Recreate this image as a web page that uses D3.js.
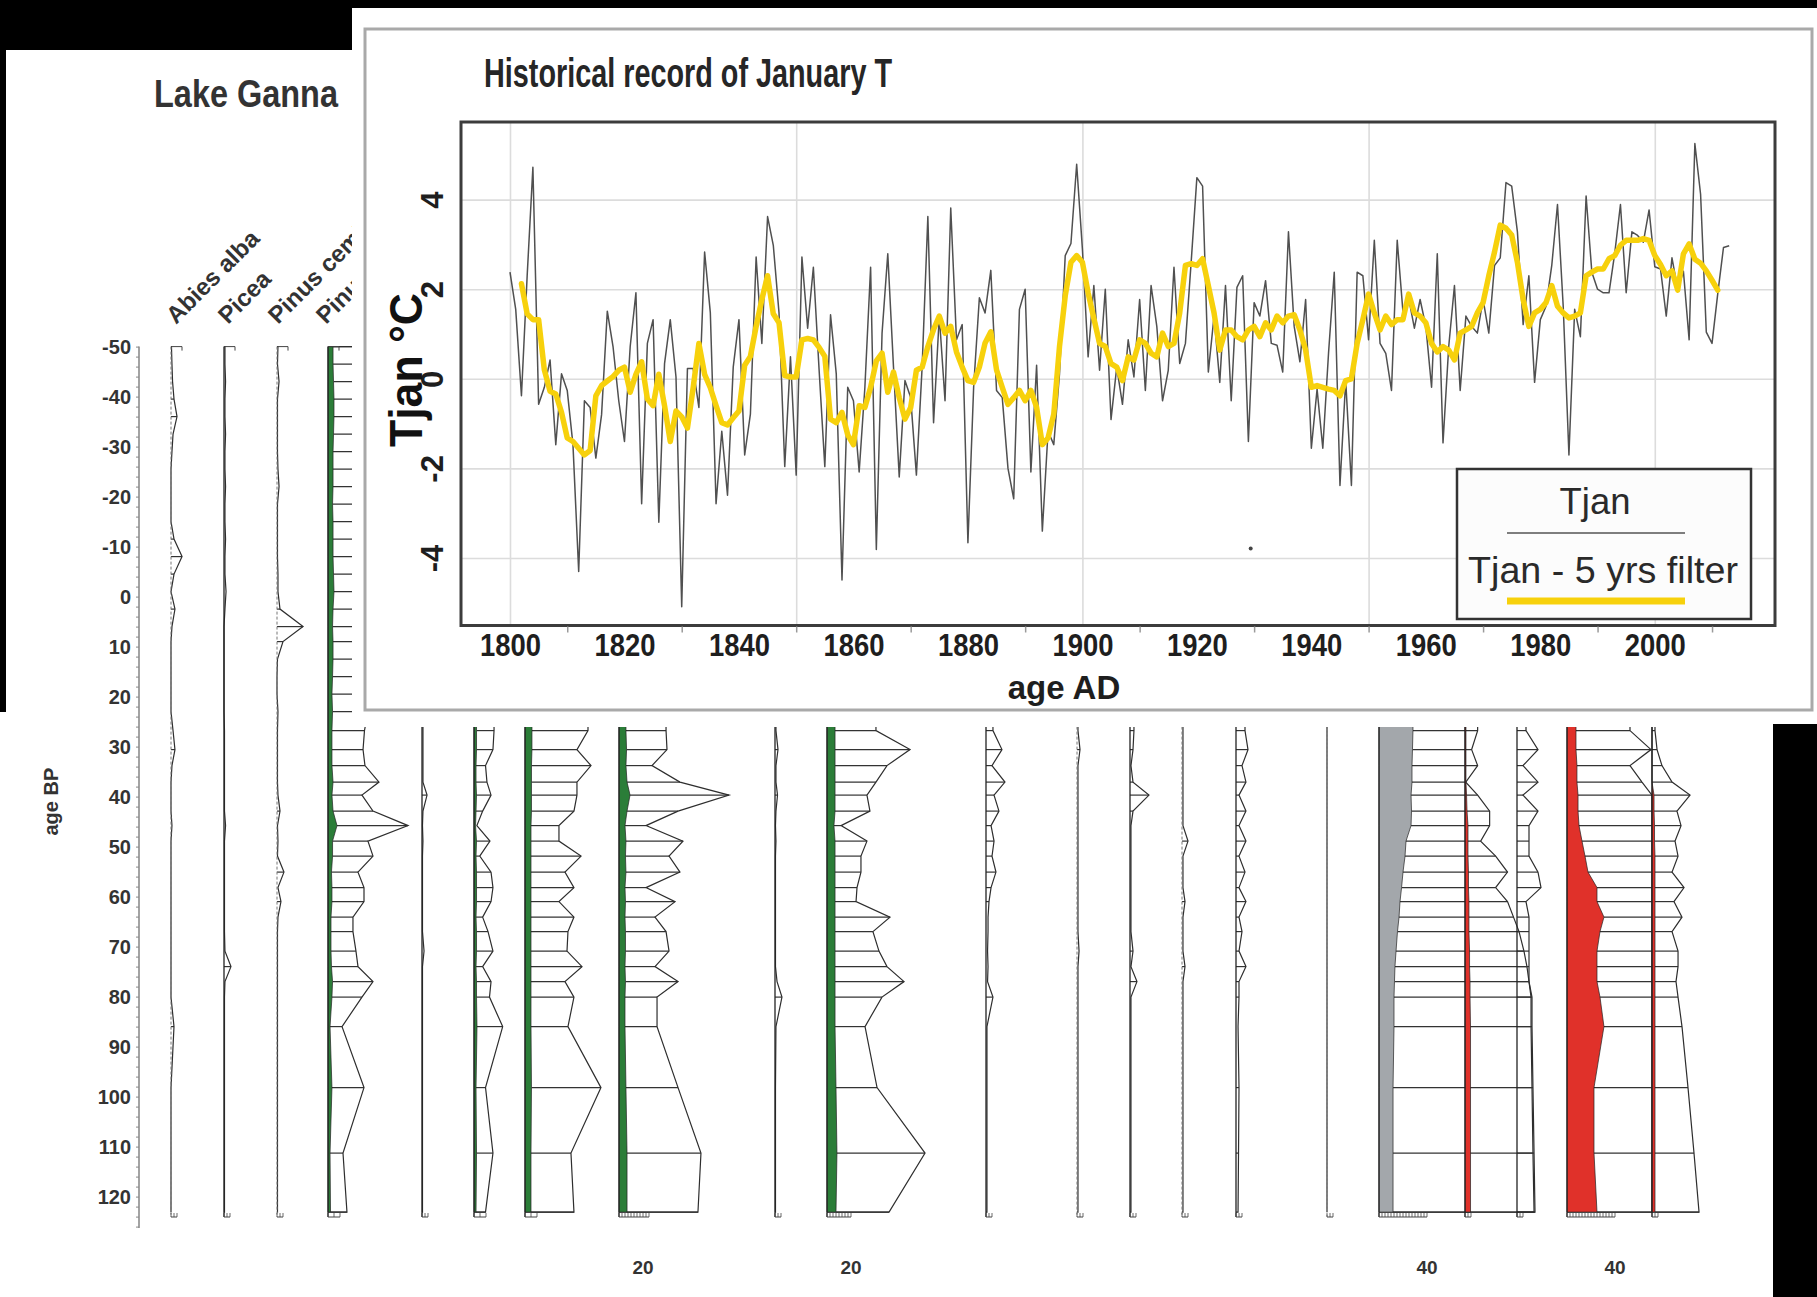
<!DOCTYPE html>
<html>
<head>
<meta charset="utf-8">
<script src="https://cdn.jsdelivr.net/npm/d3@7/dist/d3.min.js"></script>
<style>
 html,body{margin:0;padding:0;background:#fff;}
 svg{display:block;}
</style>
</head>
<body>
<svg id="chart" width="1817" height="1297"></svg>
<script>
// ================= DATA =================
// --- Historical record of January T ---
const tjanStartYear = 1800;
const tjan = [
 2.38, 1.55, -0.38, 2.3, 4.72, -0.57, -0.19, 0.42, -1.47, 0.11,
 -0.26, -1.47, -4.3, -0.49, -0.64, -1.77, -0.8, 1.51, 0.72, -0.49,
 -1.4, 0.72, 1.92, -2.79, 0.79, 1.32, -3.2, 0.34, 1.32, 0.04,
 -5.09, 0.23, 0.23, -0.64, 2.83, 1.47, -2.79, -1.17, -2.6, 0.26,
 1.32, -1.7, -0.79, 2.72, 0.79, 3.62, 2.98, 1.47, -1.96, 0.49,
 -2.15, 2.72, 1.13, 2.49, 0.2, -1.96, 1.43, 0.11, -4.49, -0.19,
 -0.49, -2.08, -0.19, 2.49, -3.81, 1.02, 2.79, 0.26, -2.19, -0.04,
 -0.42, -2.15, 0.26, 3.62, -0.98, 1.4, -0.49, 3.81, 0.87, 1.21,
 -3.66, -0.19, 1.81, 1.47, 2.42, -0.26, -0.42, -2.0, -2.68, 1.55,
 2.0, -2.08, 0.3, -3.4, -1.17, -1.47, 0.11, 2.75, 3.02, 4.79,
 2.9, 0.49, 2.08, 0.19, 2.0, -0.91, 0.26, -0.57, 0.87, 0.04,
 1.77, -0.26, 2.08, 1.17, -0.49, 0.19, 2.49, 0.34, 0.79, 2.6,
 4.49, 4.3, 0.15, 1.4, -0.08, 2.08, -0.49, 2.04, 2.3, -1.4,
 1.7, 1.4, 2.19, 0.79, 0.75, 0.15, 3.28, 1.17, 0.38, 1.77,
 -1.55, -0.23, -1.55, 0.57, 2.38, -2.38, -0.04, -2.38, 2.38, 2.3,
 0.87, 3.09, 0.79, 0.57, -0.26, 3.09, 1.5, 1.8, 1.13, 1.77,
 1.17, -0.19, 2.79, -1.43, 0.72, 2.08, -0.26, 1.4, 1.17, 1.02,
 1.77, 1.02, 2.53, 2.7, 4.38, 4.3, 3.28, 1.21, 2.3, -0.08,
 1.32, 1.62, 2.53, 3.89, 1.62, -1.7, 1.55, 0.94, 4.08, 2.38,
 2.0, 1.92, 1.92, 2.8, 3.89, 1.92, 3.28, 3.2, 3.05, 3.77,
 2.5, 2.45, 1.4, 2.7, 2.0, 2.4, 0.87, 5.25, 4.12, 1.04,
 0.79, 1.9, 2.93, 2.97
];
const filterStartYear = 1802;
const tjanFilter5 = [
 2.12, 1.45, 1.32, 1.32, 0.2, -0.28, -0.34, -0.75,
 -1.32, -1.4, -1.55, -1.7, -1.6, -0.38, -0.15, -0.05, 0.05, 0.19,
 0.26, -0.3, 0.1, 0.38, -0.45, -0.6, 0.1, -0.6, -1.4, -0.72,
 -0.85, -1.1, -0.2, 0.79, 0.1, -0.2, -0.6, -0.98, -1.03, -0.87,
 -0.72, 0.3, 0.5, 1.17, 1.77, 2.3, 1.45, 1.25, 0.07, 0.04,
 0.04, 0.87, 0.9, 0.87, 0.7, 0.5, -0.9, -0.98, -0.75, -1.25,
 -1.47, -0.6, -0.64, -0.19, 0.4, 0.57, -0.3, 0.15, -0.42, -0.9,
 -0.64, 0.19, 0.26, 0.72, 1.1, 1.4, 1.02, 1.17, 0.6, 0.26,
 -0.04, -0.08, 0.26, 0.8, 1.05, 0.2, -0.19, -0.57, -0.42, -0.26,
 -0.49, -0.26, -0.64, -1.47, -1.32, -0.79, 0.72, 1.85, 2.6, 2.75,
 2.6, 1.92, 1.35, 0.79, 0.72, 0.34, 0.26, -0.04, 0.49, 0.42,
 0.87, 0.79, 0.57, 0.49, 1.02, 0.72, 0.79, 1.47, 2.53, 2.57,
 2.53, 2.68, 2.08, 1.47, 0.64, 1.09, 1.09, 0.94, 0.87, 1.09,
 1.17, 0.94, 1.25, 1.09, 1.4, 1.25, 1.4, 1.43, 1.09, 0.64,
 -0.19, -0.15, -0.19, -0.23, -0.26, -0.38, -0.04, 0.0, 0.79, 1.32,
 1.89, 1.47, 1.09, 1.4, 1.21, 1.32, 1.32, 1.89, 1.47, 1.4,
 1.25, 0.79, 0.6, 0.72, 0.64, 0.42, 1.02, 1.09, 1.17, 1.47,
 1.7, 2.3, 2.83, 3.43, 3.36, 3.21, 2.6, 1.77, 1.17, 1.47,
 1.55, 1.7, 2.08, 1.62, 1.47, 1.36, 1.4, 1.47, 2.3, 2.38,
 2.45, 2.45, 2.68, 2.75, 2.98, 3.09, 3.09, 3.09, 3.13, 3.09,
 2.75, 2.55, 2.3, 2.41, 1.98, 2.79, 3.01, 2.67, 2.58, 2.41,
 2.2, 1.98
];
const strayMarks = [{year: 1929.4, value: -3.79}];
const xTickYears = [1800, 1820, 1840, 1860, 1880, 1900, 1920, 1940, 1960, 1980, 2000];
const xMinorTickYears = [1810, 1830, 1850, 1870, 1890, 1910, 1930, 1950, 1970, 1990, 2010];
const xGridYears = [1800, 1850, 1900, 1950, 2000];
const yTickValues = [-4, -2, 0, 2, 4];
const insetTitle = "Historical record of January T";
const xAxisTitle = "age AD";
const yAxisTitle = "Tjan \u00B0C";
const legendLabels = ["Tjan", "Tjan - 5 yrs filter"];

// --- Lake Ganna pollen diagram (background) ---
const diagramTitle = "Lake Ganna";
const ageAxisTitle = "age BP";
const ageTicks = [-50, -40, -30, -20, -10, 0, 10, 20, 30, 40, 50, 60, 70, 80, 90, 100, 110, 120];
const pollenAgesUpper = [-50, -46.5, -43, -39.5, -36, -32.5, -29, -25.5, -22, -18.5, -15, -11.5, -8, -4.5, -1, 2.5, 6, 9, 12.5, 16, 19.5, 23];
const pollenAgesLower = [26.8, 30.6, 33.8, 37.1, 39.7, 42.9, 45.8, 48.9, 51.9, 55.1, 58.2, 61.0, 64.1, 67.0, 70.9, 74.0, 77.0, 80.1, 86.0, 98.2, 111.3, 123.1];
const taxaLabels = ["Abies alba", "Picea", "Pinus cembra", "Pinus sylvestris"];
// values in % (fill) and in exaggerated % (outline curves)
const abiesAlbaExag = [0.4,0.8,1.3,2.5,5,1.7,0.8,0,0,0,0,2.5,9.2,2.5,0,3.3,0.8,0,0,0,0,0, 1.7,3.3,0.8,0,0,0,0.8,0,0,0,0,0,0,0,0,0,0,0,2.5,0,0,0];
const piceaExag = [0.8,0.8,1.3,0.8,0.8,1.3,0.8,0.8,1.3,0.8,0.8,1.3,0.8,0.8,1.7,0.8,0,0,0,0,0,0, 0.4,0.4,0.4,0.4,0.4,0.4,1.3,0.4,0.4,0.4,0.4,0.4,0.4,0.4,0.8,5.8,0.8,0.4,0.4,0.4,0.4,0.4];
const pinusCembraExag = [0.8,0.4,1.7,0.4,0.4,0.4,0.4,0.8,1.7,0.4,0.4,0.4,0.4,0.8,0.8,2.5,21.7,5,0.4,0,0,0.8, 0.4,0.4,0.4,0.4,0.8,2.5,0.4,0.8,0.4,5.8,0.8,3.3,0.8,0.4,0.4,0.4,0.4,0.4,0.4,0.4,0.4,0.4];
const pinusSylvFill = [4.2,4.2,4.6,5,5,4.6,4.2,4.2,4.2,3.8,4.2,4.2,4.2,4.6,5,4.2,3.8,4.2,4.2,3.8,3.3,3.8, 3.3,3.3,3.3,4.2,3.3,4.2,7.5,3.8,3.8,2.9,3.3,3.3,2.5,2.5,2.5,2.9,3.8,3.3,1.7,3.3,1.7,2.1];
const pinusSylvExag = [37.5,36.7,40,41.7,41.7,38.3,36.7,35,36.7,33.3,36.7,36.7,36.7,40,41.7,36.7,33.3,35,38.3,35,33.3,33.3, 30.4,29.2,30.8,42.5,28.3,37.5,66.7,33.3,37.5,25,30,30,20.8,20.8,23.3,25,37.5,28.3,11.7,30,12.5,15.8];
const taxon5Exag = [0.8,0.8,0.8,0.8,4.2,0.8,0.4,0.8,0.4,0.4,0.4,0.4,0.4,0.4,1.7,0.4,0.4,0.4,0.4,0.4,0.4,0.4];
const taxon6Fill = [2.1,2.1,1.7,1.7,2.1,1.7,1.3,2.1,1.7,2.1,2.1,2.1,1.7,2.1,2.1,1.7,2.1,2.1,2.5,1.7,2.1,1.7];
const taxon6Exag = [16.7,15.8,9.6,10.8,14.2,7.2,2.4,13.3,4.8,14.2,15.8,14.2,7.2,11.7,15.8,7.2,14.2,12.9,23.9,9.6,15.8,9.6];
const taxon7Fill = [5.8,5.8,5.4,5.4,5.4,5.4,5,5,5,5,5,5,5,5,5,5,5,5,5,5.4,5,5];
const taxon7Exag = [52.5,43.3,55,43.3,43.3,40.8,28.3,28.3,46.7,33.3,40.8,28.3,40.8,35.8,35,47.5,33.3,40.8,35.8,63.3,38.3,40.8];
const taxon8Fill = [5.8,6.3,5.8,6.7,9.2,6.7,5,5.8,5.4,5.8,5,5.4,5,5.4,5.4,5,5.4,5,5,5.8,6.7,6.7];
const taxon8Exag = [39.2,40,27.5,50.8,91.7,49.2,22.5,53.3,41.7,50.8,22.5,46.7,30,39.2,41.7,30,49.2,31.7,31.7,49.2,68.3,65.8];
const taxon9Exag = [0.8,2.5,0.8,0.8,2.1,0.8,0.4,0.8,0.4,0.4,0.4,0.4,0.4,0.4,0.4,0.4,1.7,5.8,0.8,0.4,0.4,0.4];
const taxon10Fill = [6.7,6.7,6.7,6.7,6.7,6.7,5.8,6.7,6.7,6.7,6.7,6.7,6.7,6.7,6.7,6.7,6.7,6.7,6.7,7.5,8.3,7.5];
const taxon10Exag = [40.8,69.2,50,40.8,33.3,35.8,11.7,33.3,28.3,28.3,25,24.2,52.5,38.3,43.3,50,64.2,45.8,31.7,41.7,81.7,51.7];
const taxon11Exag = [5.8,13.3,5,15.8,6.7,10.8,4.2,6.7,5,8.3,4.2,2.5,1.7,1.7,1.3,1.7,1.3,5.8,0.8,0.8,0.8,0.8];
const taxon12Exag = [0.8,2.5,0.8,0.8,0.8,0.8,0.8,0.8,0.8,0.8,0.8,0.8,0.8,0.8,1.7,0.8,0.8,0.8,0.8,0.8,0.8,0.8];
const taxon13Exag = [3.3,2.5,0.8,2.5,15.8,2.5,0.8,0.8,0.8,0.8,0.8,0.8,0.8,0.8,2.5,0.8,5.8,0.8,0.8,0.8,0.8,0.8];
const taxon14Exag = [0.8,0.8,0.8,0.8,0.8,0.8,0.8,5,0.8,0.8,0.8,2.5,0.8,0.8,0.8,2.5,0.8,0.8,0.8,0.8,0.8,0.8];
const taxon15Exag = [7.5,10,5,8.3,2.5,8.3,2.5,8.3,2.5,7.5,2.5,8.3,2.5,5,2.5,8.3,2.5,2.5,1.7,2.5,2.1,1.7];
const taxon16Exag = [0,0,0,0,0,0,0,0,0,0,0,0,0,0,0,0,0,0,0,0,0,0];
const taxon17Fill = [28.3,27.9,27.5,27.5,26.7,27.1,26.7,22.5,21.7,20,18.8,17.5,16.7,15.4,14.2,13.3,12.9,12.5,12.5,11.7,11.7,11.7];
const taxon17Exag = [82.2,77.2,82.2,72.3,82.2,92.2,92.2,84.7,97.2,107.1,97.2,107.1,112.1,116.7,120.8,123.3,125,126.7,126.7,127.5,128.3,129.2];
const taxon18Fill = [0.8,0.8,0.8,0.8,1.3,1.7,2.5,2.5,2.5,2.9,2.9,3.3,3.3,3.3,3.8,3.8,4.2,4.2,4.6,4.6,4.6,4.6];
const taxon19Exag = [7.5,17.5,5,17.5,5,17.5,10,10,10,17.5,20,7.5,10,10,10,10,10,12.5,12.5,13.3,14.2,15];
const taxon20Fill = [7.5,7.5,8.3,8.3,9.2,9.2,10,12.5,15,17.5,25,25,30.8,27.5,25,25,25,27.5,30.8,22.5,22.5,25];
const taxon20Exag = [52.5,70,52.5,62.5,70.8,70.8,70.8,70.8,70.8,70.8,70.8,70.8,70.8,70.8,70.8,70.8,70.8,70.8,70.8,70.8,70.8,70.8];
const taxon21Fill = [0,0,0,0,1.7,1.7,2.1,2.1,2.5,2.5,2.5,2.5,2.5,2.5,2.5,2.5,2.5,2.5,2.5,2.5,2.5,2.5];
const taxon21Exag = [2.5,4.2,8.3,16.7,31.7,20.8,24.2,19.2,21.7,16.7,26.7,18.3,25,16.7,21.7,21.7,20,21.7,25,30,35,39.2];
const scaleLabelValues = [20, 20, 40, 40];

// ================= LAYOUT / STYLE =================
const FONT = '"Liberation Sans", Arial, Helvetica, sans-serif';
const GREEN = '#2b7d38', GREY = '#a3a7ab', RED = '#e0312a';
const agesAll = pollenAgesUpper.concat(pollenAgesLower);
const columns = [
 {x:171, ages:agesAll, exag:abiesAlbaExag, dash:'3,2', scale:5},
 {x:224, ages:agesAll, exag:piceaExag, scale:5},
 {x:277, ages:agesAll, exag:pinusCembraExag, dash:'3,2', scale:5},
 {x:328, ages:agesAll, exag:pinusSylvExag, fill:pinusSylvFill, color:GREEN, scale:10},
 {x:422, ages:pollenAgesLower, exag:taxon5Exag, scale:5},
 {x:474, ages:pollenAgesLower, exag:taxon6Exag, fill:taxon6Fill, color:GREEN, scale:10},
 {x:525, ages:pollenAgesLower, exag:taxon7Exag, fill:taxon7Fill, color:GREEN, scale:10},
 {x:619, ages:pollenAgesLower, exag:taxon8Exag, fill:taxon8Fill, color:GREEN, scale:25, label:0},
 {x:775, ages:pollenAgesLower, exag:taxon9Exag, scale:5},
 {x:827, ages:pollenAgesLower, exag:taxon10Exag, fill:taxon10Fill, color:GREEN, scale:20, label:1},
 {x:986, ages:pollenAgesLower, exag:taxon11Exag, scale:5},
 {x:1077, ages:pollenAgesLower, exag:taxon12Exag, dash:'3,2', scale:5},
 {x:1130, ages:pollenAgesLower, exag:taxon13Exag, scale:5},
 {x:1182, ages:pollenAgesLower, exag:taxon14Exag, dash:'3,2', scale:5},
 {x:1236, ages:pollenAgesLower, exag:taxon15Exag, scale:5},
 {x:1327, ages:pollenAgesLower, exag:taxon16Exag, dash:'2,2', scale:5},
 {x:1379, ages:pollenAgesLower, exag:taxon17Exag, fill:taxon17Fill, color:GREY, scale:40, label:2},
 {x:1465, ages:pollenAgesLower, fill:taxon18Fill, color:RED, scale:5},
 {x:1517, ages:pollenAgesLower, exag:taxon19Exag, scale:5},
 {x:1567, ages:pollenAgesLower, exag:taxon20Exag, fill:taxon20Fill, color:RED, scale:40, label:3},
 {x:1652, ages:pollenAgesLower, exag:taxon21Exag, fill:taxon21Fill, color:RED, scale:5}
];
const labelX = [176, 228, 278, 326];
const AXIS_X = 139;

const svg = d3.select('#chart');
svg.append('rect').attr('width', 1817).attr('height', 1297).attr('fill', '#fff');

// ================= POLLEN DIAGRAM =================
const yAge = d3.scaleLinear().domain([-50, 126]).range([346.6, 1226.6]);
const pct = d3.scaleLinear().domain([0, 100]).range([0, 120]);
const P = svg.append('g').attr('font-family', FONT);
const scaleY = 1217;

P.append('text').attr('x', 154).attr('y', 107).attr('font-size', 39).attr('font-weight', 'bold')
 .attr('fill', '#333').attr('textLength', 184).attr('lengthAdjust', 'spacingAndGlyphs').text(diagramTitle);

P.append('line').attr('x1', AXIS_X).attr('x2', AXIS_X).attr('y1', yAge(-50)).attr('y2', 1228)
 .attr('stroke', '#666').attr('stroke-width', 1.2);
P.append('g').attr('transform', `translate(${AXIS_X},0)`)
 .call(d3.axisLeft(yAge).tickValues(d3.range(-50, 127, 2)).tickSize(3).tickFormat(''))
 .call(g => g.select('.domain').remove())
 .selectAll('line').attr('stroke', '#888');
P.append('g').attr('transform', `translate(${AXIS_X},0)`)
 .call(d3.axisLeft(yAge).tickValues(ageTicks).tickSize(0).tickPadding(8).tickFormat(d => String(d)))
 .call(g => g.select('.domain').remove())
 .selectAll('text').attr('font-size', 20).attr('font-weight', 'bold').attr('fill', '#333').attr('font-family', FONT);
P.append('text').attr('transform', `translate(58,${yAge(41)}) rotate(-90)`).attr('text-anchor', 'middle')
 .attr('font-size', 20).attr('font-weight', 'bold').attr('fill', '#333').text(ageAxisTitle);

taxaLabels.forEach((t, i) => {
  P.append('text').attr('transform', `translate(${labelX[i]},325) rotate(-45)`)
   .attr('font-size', 24).attr('font-weight', 'bold').attr('fill', '#333').text(t);
});

const lineGen = (x0) => d3.line().x(d => x0 + pct(d[1])).y(d => yAge(d[0]));
columns.forEach(c => {
  const g = P.append('g');
  const x0 = c.x;
  const ext = c.ages[0] > -50;
  const A = ext ? [-50].concat(c.ages) : c.ages.slice();
  const E = c.exag ? (ext ? [c.exag[0]].concat(c.exag) : c.exag) : null;
  const F = c.fill ? (ext ? [c.fill[0]].concat(c.fill) : c.fill) : null;
  const off = A.length - c.ages.length;
  if (E) {
    c.ages.forEach((a, k) => {
      const xf = F ? pct(F[k + off]) : 0, xe = pct(E[k + off]);
      if (xe - xf > 2.5) {
        g.append('line').attr('x1', x0 + xf).attr('x2', x0 + xe).attr('y1', yAge(a)).attr('y2', yAge(a))
         .attr('stroke', '#333').attr('stroke-width', 1.2);
      }
    });
    const pts = [[A[0], 0]].concat(A.map((a, k) => [a, E[k]])).concat([[A[A.length - 1], 0]]);
    g.append('path').attr('d', lineGen(x0)(pts)).attr('fill', 'none').attr('stroke', '#2e2e2e').attr('stroke-width', 1.2);
  }
  if (F) {
    const pts = A.map((a, k) => [a, F[k]]);
    g.append('path').attr('d', d3.area().x0(x0).x1(d => x0 + pct(d[1])).y(d => yAge(d[0]))(pts))
     .attr('fill', c.color).attr('stroke', '#222').attr('stroke-width', 0.7);
  }
  g.append('line').attr('x1', x0).attr('x2', x0).attr('y1', yAge(-50)).attr('y2', scaleY)
   .attr('stroke', c.dash ? '#777' : '#222').attr('stroke-width', c.dash ? 1 : 1.3)
   .attr('stroke-dasharray', c.dash || null);
  g.append('path').attr('d', `M${x0},${yAge(-50)}H${x0 + 11}V${yAge(-50) + 4}`).attr('fill', 'none')
   .attr('stroke', '#444').attr('stroke-width', 1);
  const sx = x0 + pct(c.scale);
  g.append('line').attr('x1', x0).attr('x2', sx).attr('y1', scaleY).attr('y2', scaleY).attr('stroke', '#444');
  d3.range(0, c.scale + 0.01, c.scale > 10 ? 2.5 : c.scale / 2).forEach(v => {
    g.append('line').attr('x1', x0 + pct(v)).attr('x2', x0 + pct(v)).attr('y1', scaleY - 4).attr('y2', scaleY)
     .attr('stroke', '#444').attr('stroke-width', 0.8);
  });
  if (c.label !== undefined) {
    const v = scaleLabelValues[c.label];
    g.append('text').attr('x', x0 + pct(v)).attr('y', 1274).attr('text-anchor', 'middle')
     .attr('font-size', 19).attr('font-weight', 'bold').attr('fill', '#333').text(String(v));
  }
});

// ================= INSET =================
const I = svg.append('g').attr('font-family', FONT);
I.append('rect').attr('x', 352).attr('y', 8).attr('width', 1465).attr('height', 719).attr('fill', '#fff');
I.append('rect').attr('x', 365).attr('y', 29).attr('width', 1447).attr('height', 681)
 .attr('fill', '#fff').attr('stroke', '#a9a9a9').attr('stroke-width', 3);

I.append('text').attr('x', 484).attr('y', 87).attr('font-size', 41).attr('font-weight', 'bold')
 .attr('fill', '#262626').attr('textLength', 408).attr('lengthAdjust', 'spacingAndGlyphs').text(insetTitle);

const plot = {l: 461, r: 1775, t: 122, b: 625.5};
const x = d3.scaleLinear().domain([1791.44, 2021.0]).range([plot.l, plot.r]);
const y = d3.scaleLinear().domain([-5.507, 5.732]).range([plot.b, plot.t]);

I.append('g').attr('transform', `translate(0,${plot.b})`)
 .call(d3.axisBottom(x).tickValues(xGridYears).tickSize(-(plot.b - plot.t)).tickFormat(''))
 .call(g => g.select('.domain').remove())
 .selectAll('line').attr('stroke', '#dcdcdc').attr('stroke-width', 1.6);
I.append('g').attr('transform', `translate(${plot.l},0)`)
 .call(d3.axisLeft(y).tickValues(yTickValues).tickSize(-(plot.r - plot.l)).tickFormat(''))
 .call(g => g.select('.domain').remove())
 .selectAll('line').attr('stroke', '#dcdcdc').attr('stroke-width', 1.6);

I.append('clipPath').attr('id', 'pclip').append('rect')
 .attr('x', plot.l).attr('y', plot.t).attr('width', plot.r - plot.l).attr('height', plot.b - plot.t);
const tjanPts = tjan.map((v, i) => [tjanStartYear + i, v]);
const filtPts = tjanFilter5.map((v, i) => [filterStartYear + i, v]);
const ln = d3.line().x(d => x(d[0])).y(d => y(d[1]));
I.append('path').attr('d', ln(tjanPts)).attr('fill', 'none').attr('stroke', '#505050')
 .attr('stroke-width', 1.5).attr('stroke-linejoin', 'round').attr('clip-path', 'url(#pclip)');
I.append('path').attr('d', ln(filtPts)).attr('fill', 'none').attr('stroke', '#f7d10c')
 .attr('stroke-width', 5.5).attr('stroke-linejoin', 'round').attr('stroke-linecap', 'round').attr('clip-path', 'url(#pclip)');
I.selectAll('circle.stray').data(strayMarks).enter().append('circle').attr('class', 'stray')
 .attr('cx', d => x(d.year)).attr('cy', d => y(d.value)).attr('r', 2).attr('fill', '#444');

I.append('rect').attr('x', plot.l).attr('y', plot.t).attr('width', plot.r - plot.l).attr('height', plot.b - plot.t)
 .attr('fill', 'none').attr('stroke', '#3c3c3c').attr('stroke-width', 3);

I.append('g').attr('transform', `translate(0,${plot.b + 1})`)
 .call(d3.axisBottom(x).tickValues(xMinorTickYears.filter(v => v <= 2021)).tickSize(6).tickFormat(''))
 .call(g => g.select('.domain').remove())
 .selectAll('line').attr('stroke', '#9a9a9a').attr('stroke-width', 1.5);
const xl = I.append('g').attr('transform', `translate(0,${plot.b})`)
 .call(d3.axisBottom(x).tickValues(xTickYears).tickSize(0).tickPadding(0).tickFormat(d => String(d)))
 .call(g => g.select('.domain').remove());
xl.selectAll('text').attr('y', 30).attr('dy', 0).attr('font-size', 31).attr('font-weight', 'bold')
 .attr('fill', '#1e1e1e').attr('font-family', FONT).attr('textLength', 61).attr('lengthAdjust', 'spacingAndGlyphs');

const yl = I.append('g').attr('transform', `translate(${plot.l},0)`)
 .call(d3.axisLeft(y).tickValues(yTickValues).tickSize(0).tickFormat(d => String(d)))
 .call(g => g.select('.domain').remove());
yl.selectAll('text').attr('transform', 'rotate(-90)').attr('x', 0).attr('y', -18).attr('dy', 0)
 .attr('text-anchor', 'middle').attr('font-size', 31).attr('font-weight', 'bold').attr('fill', '#1e1e1e').attr('font-family', FONT);

I.append('text').attr('x', 1064).attr('y', 699).attr('text-anchor', 'middle').attr('font-size', 33)
 .attr('font-weight', 'bold').attr('fill', '#1e1e1e').text(xAxisTitle);
I.append('text').attr('transform', 'translate(422,370) rotate(-90)').attr('text-anchor', 'middle')
 .attr('font-size', 46).attr('font-weight', 'bold').attr('fill', '#111')
 .attr('textLength', 154).attr('lengthAdjust', 'spacingAndGlyphs').text(yAxisTitle);

const L = I.append('g');
L.append('rect').attr('x', 1457).attr('y', 469).attr('width', 294).attr('height', 150)
 .attr('fill', '#fcfcfc').attr('stroke', '#333').attr('stroke-width', 2.5);
L.append('text').attr('x', 1595).attr('y', 514).attr('text-anchor', 'middle').attr('font-size', 37)
 .attr('fill', '#2a2a2a').attr('textLength', 71).attr('lengthAdjust', 'spacingAndGlyphs').text(legendLabels[0]);
L.append('line').attr('x1', 1507).attr('x2', 1685).attr('y1', 533).attr('y2', 533).attr('stroke', '#555').attr('stroke-width', 1.6);
L.append('text').attr('x', 1603).attr('y', 583).attr('text-anchor', 'middle').attr('font-size', 36)
 .attr('fill', '#2a2a2a').attr('textLength', 270).attr('lengthAdjust', 'spacingAndGlyphs').text(legendLabels[1]);
L.append('line').attr('x1', 1507).attr('x2', 1685).attr('y1', 601).attr('y2', 601).attr('stroke', '#f7d10c').attr('stroke-width', 7);

// ================= BLACK MARGINS =================
svg.append('rect').attr('x', 0).attr('y', 0).attr('width', 352).attr('height', 50).attr('fill', '#000');
svg.append('rect').attr('x', 352).attr('y', 0).attr('width', 1465).attr('height', 8).attr('fill', '#000');
svg.append('rect').attr('x', 0).attr('y', 0).attr('width', 6).attr('height', 712).attr('fill', '#000');
svg.append('rect').attr('x', 1773).attr('y', 724).attr('width', 44).attr('height', 573).attr('fill', '#000');
</script>
</body>
</html>
